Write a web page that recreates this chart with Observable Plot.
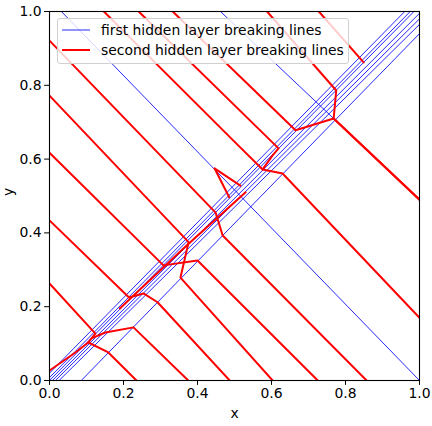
<!DOCTYPE html>
<html>
<head>
<meta charset="utf-8">
<script src="https://cdn.jsdelivr.net/npm/d3@7"></script>
<script src="https://cdn.jsdelivr.net/npm/@observablehq/plot@0.6"></script>
<style>
  html, body { margin: 0; padding: 0; background: #fff; }
  #wrap { position: relative; width: 432px; height: 426px; font-family: "DejaVu Sans", sans-serif; }
  #legend {
    position: absolute; left: 57px; top: 18px; width: 290px; height: 44px;
    background: rgba(255,255,255,0.8); border: 1px solid #d0d0d0; border-radius: 3px;
    font-size: 13.9px; color: #000;
  }
  .row { position: absolute; left: 0; height: 18px; display: flex; align-items: center; white-space: nowrap; }
  .row svg { margin-left: 4px; margin-right: 11px; }
</style>
</head>
<body>
<div id="wrap"></div>
<script>
// ---- data (data units) ----
const xTicks = [0, 0.2, 0.4, 0.6, 0.8, 1.0];
const yTicks = [0, 0.2, 0.4, 0.6, 0.8, 1.0];
const seriesNames = ["first hidden layer breaking lines", "second hidden layer breaking lines"];

// first hidden layer breaking lines (straight lines, endpoints on the unit square)
const firstLayerLines = [
  [[0.000, 0.020], [0.960, 1.000]],
  [[0.000, 0.008], [0.975, 1.000]],
  [[0.000, 0.000], [0.985, 1.000]],
  [[0.008, 0.000], [1.000, 0.995]],
  [[0.016, 0.000], [1.000, 0.980]],
  [[0.026, 0.000], [1.000, 0.965]],
  [[0.086, 0.000], [1.000, 0.940]],
  [[0.032, 1.000], [1.000, 0.000]],
  [[0.462, 1.000], [1.000, 0.490]]
];

// second hidden layer breaking lines (piecewise linear)
const secondLayerLines = [
  [[0, 0.921], [0.449, 0.455], [0.468, 0.393], [0.857, 0]],
  [[0, 0.772], [0.376, 0.375], [0.354, 0.279], [0.603, 0]],
  [[0, 0.617], [0.308, 0.312], [0.400, 0.325], [0.725, 0]],
  [[0, 0.434], [0.215, 0.225], [0.254, 0.236], [0.292, 0.212], [0.487, 0]],
  [[0, 0.263], [0.124, 0.127], [0.105, 0.103], [0.159, 0.076], [0.235, 0]],
  [[0.375, 0], [0.227, 0.144], [0.151, 0.130], [0.115, 0.115]],
  [[0, 0.027], [0.070, 0.076], [0.105, 0.103]],
  [[0.190, 0.195], [0.370, 0.365], [0.530, 0.510]],
  [[0.147, 1], [0.497, 0.650], [0.576, 0.572], [0.630, 0.561], [1, 0.170]],
  [[0.241, 1], [0.619, 0.629], [0.603, 0.610], [0.576, 0.572]],
  [[0.333, 1], [0.665, 0.678], [0.768, 0.710], [1, 0.490]],
  [[0.588, 1], [0.775, 0.786], [0.768, 0.710], [1, 0.490]],
  [[0.728, 1], [0.849, 0.862]],
  [[0.516, 0.528], [0.446, 0.575], [0.486, 0.496]]
];

// ---- build tables ----
const toRows = (lines) => lines.flatMap((pts, i) => pts.map(([x, y]) => ({id: i, x, y})));
const blueRows = toRows(firstLayerLines);
const redRows = toRows(secondLayerLines);

const chart = Plot.plot({
  width: 432,
  height: 426,
  marginLeft: 49,
  marginRight: 13,
  marginTop: 11,
  marginBottom: 46,
  style: {fontFamily: "DejaVu Sans, sans-serif", fontSize: "13.9px", color: "#000", background: "#fff", overflow: "visible"},
  x: {domain: [0, 1]},
  y: {domain: [0, 1]},
  marks: [
    Plot.line(blueRows, {x: "x", y: "y", z: "id", stroke: "#0000ff", strokeWidth: 0.85, clip: true}),
    Plot.line(redRows, {x: "x", y: "y", z: "id", stroke: "#ff0000", strokeWidth: 2, strokeLinejoin: "round", clip: true}),
    Plot.frame({stroke: "#000", strokeWidth: 1.1}),
    Plot.axisX({ticks: xTicks, tickFormat: d3.format(".1f"), tickSize: 4.9, tickPadding: 3, label: null, stroke: "#000", fontSize: 13.9}),
    Plot.axisY({ticks: yTicks, tickFormat: d3.format(".1f"), tickSize: 4.9, tickPadding: 3, label: null, stroke: "#000", fontSize: 13.9}),
    Plot.text(["x"], {frameAnchor: "bottom", dy: 37, text: d => d, fontSize: 13.9}),
    Plot.text(["y"], {frameAnchor: "left", dx: -41, rotate: -90, text: d => d, fontSize: 13.9})
  ]
});

const wrap = document.getElementById("wrap");
wrap.appendChild(chart);

// legend
const legend = document.createElement("div");
legend.id = "legend";
const colors = ["#0000ff", "#ff0000"];
const widths = [0.85, 2];
seriesNames.forEach((name, i) => {
  const row = document.createElement("div");
  row.className = "row";
  row.style.top = (2 + i * 20) + "px";
  row.innerHTML = `<svg width="28" height="10"><line x1="0" x2="28" y1="5" y2="5" stroke="${colors[i]}" stroke-width="${widths[i]}"/></svg><span>${name}</span>`;
  legend.appendChild(row);
});
wrap.appendChild(legend);
</script>
</body>
</html>
